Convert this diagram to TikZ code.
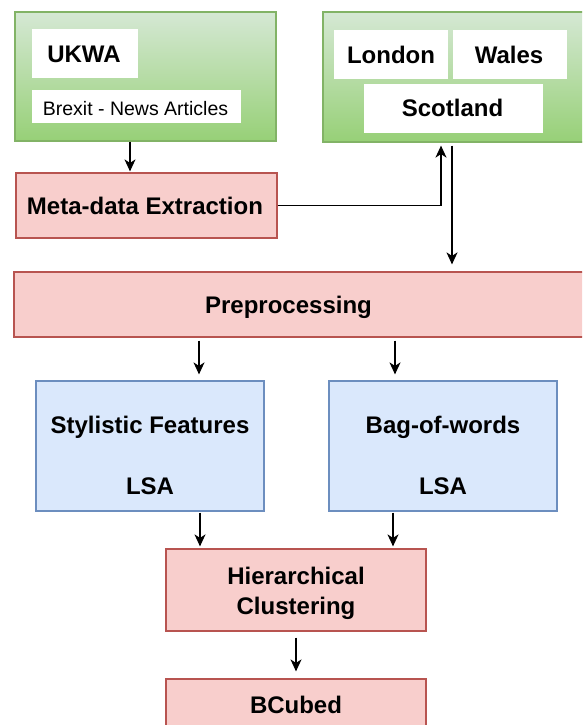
\documentclass[tikz,border=0pt]{standalone}
\usepackage{fontspec}
\setmainfont{Liberation Sans}
\usetikzlibrary{arrows.meta,calc}
\definecolor{gfill}{HTML}{D5E8D4}
\definecolor{gfillb}{HTML}{97D077}
\definecolor{gline}{HTML}{82B366}
\definecolor{rfill}{HTML}{F8CECC}
\definecolor{rline}{HTML}{B85450}
\definecolor{bfill}{HTML}{DAE8FC}
\definecolor{bline}{HTML}{6C8EBF}
\tikzset{
  box/.style={rectangle, inner sep=0pt, line width=1.2pt},
  greenbox/.style={box, draw=gline, top color=gfill, bottom color=gfillb},
  redbox/.style={box, draw=rline, fill=rfill},
  bluebox/.style={box, draw=bline, fill=bfill},
  whitebox/.style={box, fill=white},
  bigtxt/.style={font=\fontsize{24}{30}\selectfont\bfseries, inner sep=0pt, text height=21.7pt, text depth=5.1pt},
  smalltxt/.style={font=\fontsize{19.5}{24}\selectfont, inner sep=0pt, text height=17.6pt, text depth=4.1pt},
  arr/.style={-{Stealth[length=12pt,width=11pt,inset=3.5pt]}, line width=1.5pt, black},
}
\begin{document}
\begin{tikzpicture}[x=1pt,y=-1pt]
\path[use as bounding box] (0,0) rectangle (582,725);
\clip (0,0) rectangle (582,725);
% groups
\node[greenbox, minimum width=261, minimum height=129] (ukgrp) at (145.5,76.5) {};
\node[whitebox, minimum width=106, minimum height=49] (ukwa) at (85,53.5) {};
\node[bigtxt] at (84,54.2) {UKWA};
\node[whitebox, minimum width=209, minimum height=33] (brexit) at (136.5,106.5) {};
\node[smalltxt] at (135.5,108.8) {Brexit - News Articles};
\node[greenbox, minimum width=265, minimum height=130] (rgrp) at (455.5,77) {};
\node[whitebox, minimum width=114, minimum height=49] (london) at (391,54.5) {};
\node[bigtxt] at (391,55.5) {London};
\node[whitebox, minimum width=114, minimum height=49] (wales) at (510,54.5) {};
\node[bigtxt] at (509,55.5) {Wales};
\node[whitebox, minimum width=179, minimum height=49] (scot) at (453.5,108.5) {};
\node[bigtxt] at (452.5,108.2) {Scotland};
% process boxes
\node[redbox, minimum width=261, minimum height=65] (meta) at (146.5,205.5) {};
\node[bigtxt] at (145,206) {Meta-data Extraction};
\node[redbox, minimum width=590, minimum height=65] (pre) at (309,304.5) {};
\node[bigtxt] at (288.5,304.7) {Preprocessing};
\node[bluebox, minimum width=228, minimum height=130] (sty) at (150,446) {};
\node[bigtxt] at (150,425.5) {Stylistic Features};
\node[bigtxt] at (150,486) {LSA};
\node[bluebox, minimum width=228, minimum height=130] (bag) at (443,446) {};
\node[bigtxt] at (443,425.5) {Bag-of-words};
\node[bigtxt] at (443,486) {LSA};
\node[redbox, minimum width=260, minimum height=82] (hier) at (296,590) {};
\node[bigtxt] at (296,576) {Hierarchical};
\node[bigtxt] at (296,606.3) {Clustering};
\node[redbox, minimum width=260, minimum height=66] (bcub) at (296,712) {};
\node[bigtxt] at (296,704.7) {BCubed};
% helper x positions
\coordinate (xa) at (130,0);
\coordinate (xb) at (441,0);
\coordinate (xc) at (452,0);
\coordinate (xd) at (199,0);
\coordinate (xe) at (395,0);
\coordinate (xf) at (200,0);
\coordinate (xg) at (393,0);
% connectors
\draw[arr, shorten >=1pt] (ukgrp.south -| xa) -- (meta.north -| xa);
\draw[arr, shorten >=3pt] (meta.east) -| (rgrp.south -| xb);
\draw[arr, shorten <=3pt, shorten >=7pt] (rgrp.south -| xc) -- (pre.north -| xc);
\draw[arr, shorten <=3pt, shorten >=6pt] (pre.south -| xd) -- (sty.north -| xd);
\draw[arr, shorten <=3pt, shorten >=6pt] (pre.south -| xe) -- (bag.north -| xe);
\draw[arr, shorten <=1pt, shorten >=2pt] (sty.south -| xf) -- (hier.north -| xf);
\draw[arr, shorten <=1pt, shorten >=2pt] (bag.south -| xg) -- (hier.north -| xg);
\draw[arr, shorten <=6pt, shorten >=7pt] (hier.south) -- (bcub.north);
\end{tikzpicture}
\end{document}
